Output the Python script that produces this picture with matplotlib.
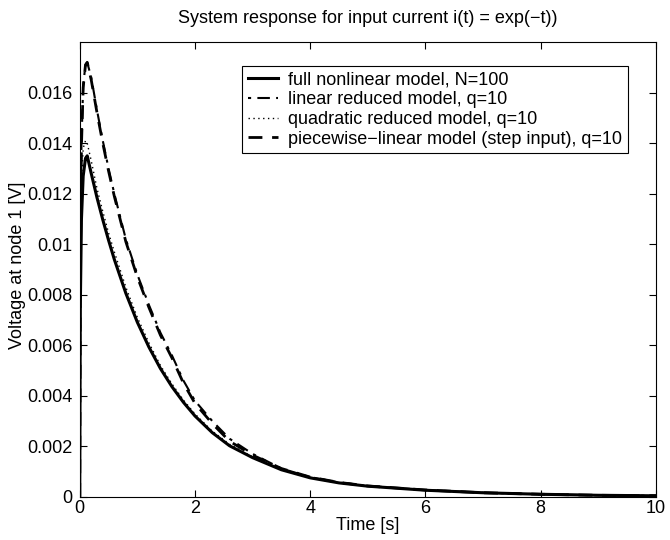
import numpy as np
import matplotlib.pyplot as plt

plt.rcParams['font.family'] = ['Liberation Sans', 'DejaVu Sans']

# ------------------ Datos ------------------
t = [0, 0.01, 0.03, 0.06, 0.1, 0.13, 0.2, 0.3, 0.4, 0.5, 0.6, 0.8, 1.0, 1.2,
     1.4, 1.6, 1.8, 2.0, 2.3, 2.6, 3.0, 3.5, 4.0, 4.5, 5, 6, 7, 8, 9, 10]

v_full = [0, 0.0075, 0.0110, 0.0127, 0.0134, 0.0135, 0.0128, 0.01184, 0.01097,
          0.01016, 0.0094, 0.00806, 0.00691, 0.00593, 0.00508, 0.00436, 0.00374,
          0.0032, 0.00254, 0.00202, 0.00155, 0.00107, 0.00075, 0.00055, 0.00042,
          0.00026, 0.00016, 0.0001, 0.00006, 0.00004]

v_linear = [0, 0.009, 0.0140, 0.0163, 0.0171, 0.0172, 0.0166, 0.0153, 0.0141,
            0.0130, 0.0120, 0.0102, 0.0088, 0.0076, 0.0065, 0.0056, 0.0046,
            0.0038, 0.0030, 0.0023, 0.0017, 0.00112, 0.00078, 0.00057, 0.00043,
            0.00027, 0.00016, 0.0001, 0.00006, 0.00004]

v_quad = [0, 0.0085, 0.0125, 0.0138, 0.0141, 0.0140, 0.0133, 0.0122, 0.0113,
          0.01045, 0.0097, 0.0083, 0.0071, 0.0061, 0.0052, 0.00447, 0.00383,
          0.00328, 0.0026, 0.00208, 0.00158, 0.00109, 0.00077, 0.00056, 0.00043,
          0.00026, 0.00016, 0.0001, 0.00006, 0.00004]

v_pwl = [0, 0.009, 0.0139, 0.0162, 0.0171, 0.0172, 0.0165, 0.0152, 0.0140,
         0.0129, 0.0119, 0.0101, 0.0087, 0.0075, 0.0064, 0.0055, 0.0045,
         0.0037, 0.0029, 0.0022, 0.00165, 0.00112, 0.00078, 0.00057, 0.00043,
         0.00027, 0.00016, 0.0001, 0.00006, 0.00004]

labels = ['full nonlinear model, N=100',
          'linear reduced model, q=10',
          'quadratic reduced model, q=10',
          'piecewise\u2212linear model (step input), q=10']

FS = 13

# ------------------ Figura ------------------
fig = plt.figure(figsize=(6.7, 5.4), dpi=100)
ax = fig.add_axes([0.119, 0.080, 0.860, 0.842])

ax.plot(t, v_full, color='black', linewidth=2.2, linestyle='-', label=labels[0])
ax.plot(t, v_linear, color='black', linewidth=1.5, linestyle=(0, (1.5, 3, 6, 3)), label=labels[1])
ax.plot(t, v_quad, color='black', linewidth=1.0, linestyle=(0, (1, 2.5)), label=labels[2])
ax.plot(t, v_pwl, color='black', linewidth=2.0, linestyle=(0, (5, 3.5)), label=labels[3])

ax.set_xlim(0, 10)
ax.set_ylim(0, 0.018)
ax.set_xticks([0, 2, 4, 6, 8, 10])
ax.set_yticks([0, 0.002, 0.004, 0.006, 0.008, 0.01, 0.012, 0.014, 0.016])
ax.set_yticklabels(['0', '0.002', '0.004', '0.006', '0.008', '0.01', '0.012', '0.014', '0.016'])
ax.tick_params(direction='in', top=True, right=True, labelsize=FS, length=5, width=0.8)
ax.tick_params(axis='y', pad=5)
ax.tick_params(axis='x', pad=2)
for s in ax.spines.values():
    s.set_linewidth(0.8)

ax.set_xlabel('Time [s]', fontsize=FS)
ax.set_ylabel('Voltage at node 1 [V]', fontsize=FS)
ax.xaxis.set_label_coords(0.5, -0.044)
ax.yaxis.set_label_coords(-0.094, 0.51)
ax.set_title('System response for input current i(t) = exp(\u2212t))', fontsize=FS, pad=14)

leg = ax.legend(loc='upper right', bbox_to_anchor=(0.951, 0.947), fontsize=FS,
                frameon=True, fancybox=False, framealpha=1, edgecolor='black',
                handlelength=1.7, handletextpad=0.55, labelspacing=0.15,
                borderpad=0.3, borderaxespad=0)
leg.get_frame().set_linewidth(0.8)

fig.savefig('out.png', dpi=100)
